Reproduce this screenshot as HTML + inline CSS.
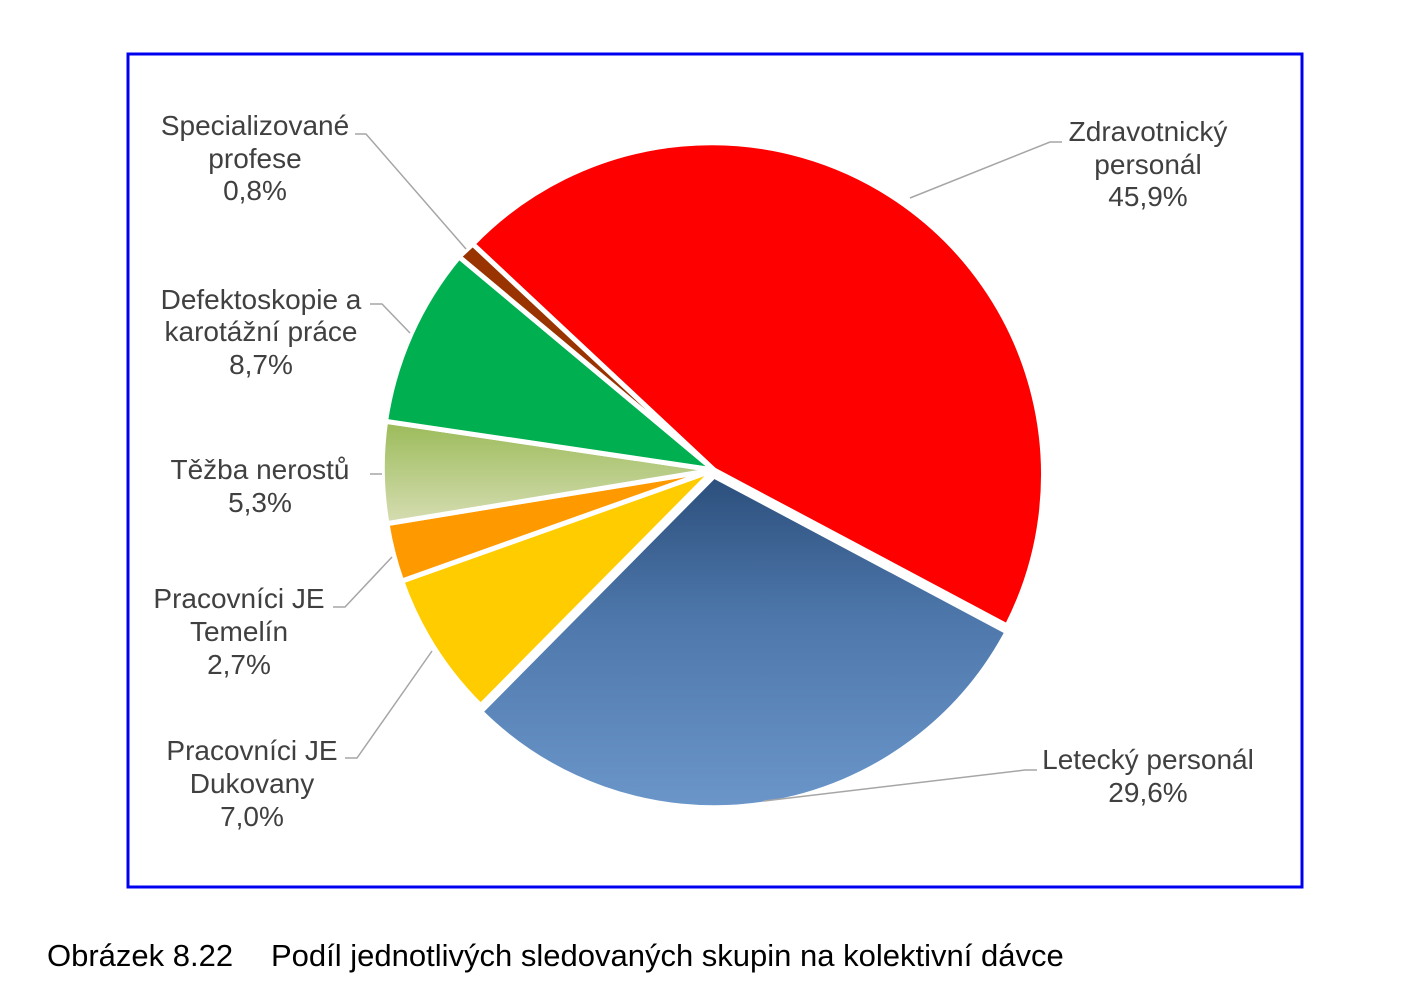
<!DOCTYPE html>
<html><head><meta charset="utf-8"><style>
html,body{margin:0;padding:0;background:#fff;}
svg{display:block;}
text{font-family:"Liberation Sans",Arial,sans-serif;}
</style></head><body>
<svg width="1403" height="985" viewBox="0 0 1403 985" xmlns="http://www.w3.org/2000/svg">
<defs>
<linearGradient id="gb" x1="0" y1="0" x2="0" y2="1">
<stop offset="0" stop-color="#2c4f7c"/><stop offset="0.45" stop-color="#4f79ad"/><stop offset="1" stop-color="#6b96ca"/>
</linearGradient>
<linearGradient id="gt" x1="0" y1="0" x2="0" y2="1">
<stop offset="0" stop-color="#9bbb59"/><stop offset="1" stop-color="#d6ddb2"/>
</linearGradient>
</defs>
<rect x="0" y="0" width="1403" height="985" fill="#fff"/>
<rect x="128" y="54" width="1174" height="833" fill="none" stroke="#0000f0" stroke-width="3"/>
<g stroke="#fff" stroke-width="5" stroke-linejoin="round">
<path d="M714,470 L472.7,244.1 A332,332 0 0 1 1007.1,625.9 Z" fill="#ff0000"/>
<path d="M714,476 L1007.1,631.9 A332,332 0 0 1 480.6,711.7 Z" fill="url(#gb)"/>
<path d="M714,470 L480.6,705.7 A332,332 0 0 1 401.7,581.1 Z" fill="#ffcc00"/>
<path d="M714,470 L401.7,581.1 A332,332 0 0 1 387.0,523.6 Z" fill="#ff9900"/>
<path d="M714,470 L387.0,523.6 A332,332 0 0 1 385.6,421.3 Z" fill="url(#gt)"/>
<path d="M714,470 L385.6,421.3 A332,332 0 0 1 459.1,256.8 Z" fill="#00b050"/>
<path d="M714,470 L459.1,256.8 A332,332 0 0 1 472.7,244.1 Z" fill="#993300"/>
</g>
<g stroke="#a6a6a6" stroke-width="1.5" fill="none">
<polyline points="910,198 1050,142 1062,142"/>
<polyline points="355,134 366,134 466,249"/>
<polyline points="370,304 382,304 410,333"/>
<polyline points="370,474 382,474"/>
<polyline points="333,607 345,607 392,557"/>
<polyline points="345,758 357,758 432,651"/>
<polyline points="764,801 1025,770 1037,770"/>
</g>
<g font-size="28" fill="#404040" text-anchor="middle">
<text x="1148" y="141">Zdravotnický</text><text x="1148" y="174">personál</text><text x="1148" y="206">45,9%</text>
<text x="255" y="135">Specializované</text><text x="255" y="168">profese</text><text x="255" y="200">0,8%</text>
<text x="261" y="309">Defektoskopie a</text><text x="261" y="341">karotážní práce</text><text x="261" y="374">8,7%</text>
<text x="260" y="479">Těžba nerostů</text><text x="260" y="512">5,3%</text>
<text x="239" y="608">Pracovníci JE</text><text x="239" y="641">Temelín</text><text x="239" y="674">2,7%</text>
<text x="252" y="760">Pracovníci JE</text><text x="252" y="793">Dukovany</text><text x="252" y="826">7,0%</text>
<text x="1148" y="769">Letecký personál</text><text x="1148" y="802">29,6%</text>
</g>
<text x="47" y="966" font-size="31" fill="#000">Obrázek 8.22</text>
<text x="271" y="966" font-size="31" fill="#000">Podíl jednotlivých sledovaných skupin na kolektivní dávce</text>
</svg>
</body></html>
